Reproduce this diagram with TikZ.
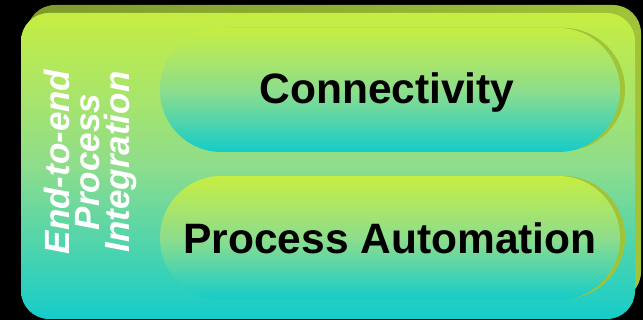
\documentclass[tikz,border=0pt]{standalone}
\usepackage{fontspec}
\setmainfont{Liberation Sans}
\definecolor{lime}{HTML}{C6EE42}
\definecolor{midgreen}{HTML}{8EDD8C}
\definecolor{teal}{HTML}{14CCCA}
\definecolor{olive}{HTML}{7E9A2C}
\definecolor{oliveb}{HTML}{A0C338}
\tikzset{
  pillshade/.style={top color=lime, bottom color=teal, middle color=midgreen, rounded corners=61.5pt},
  pillshadow/.style={fill=oliveb, rounded corners=61.5pt},
  bigtext/.style={font=\fontsize{42.5}{50}\selectfont\bfseries, text=black, inner sep=0pt},
  sidetext/.style={font=\fontsize{35}{30}\selectfont\bfseries\itshape, text=white, align=center, inner sep=0pt, rotate=90}
}
\begin{document}
\begin{tikzpicture}[x=1pt,y=-1pt]
\fill[black] (0,0) rectangle (643,320);
\useasboundingbox (0,0) rectangle (643,320);
% outer box shadow
\shade[left color=olive, right color=oliveb, rounded corners=28pt] (27,5) rectangle (641,300);
% outer box
\shade[top color=lime, bottom color=teal, middle color=midgreen, rounded corners=28pt] (21,13) rectangle (635,319);
% pill shadows
\fill[pillshadow] (165,28) rectangle (625,151);
\fill[pillshadow] (165,176) rectangle (625,299);
% pills
\shade[pillshade] (160,28) rectangle (620,152);
\shade[pillshade] (160,176) rectangle (620,300);
\node[bigtext] (c) at (387,93) {Connectivity};
\node[bigtext] (p) at (390,238) {Process Automation};
\node[sidetext] (e) at (90,162) {End-to-end\\Process\\Integration};
\end{tikzpicture}
\end{document}
